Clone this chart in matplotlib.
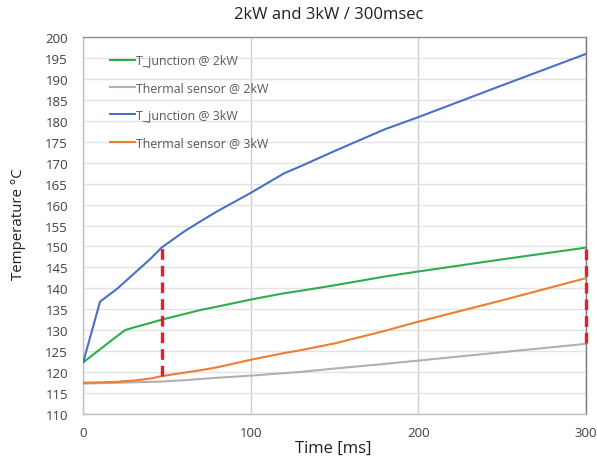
import matplotlib
matplotlib.use("Agg")
import matplotlib.pyplot as plt

plt.rcParams['font.family'] = ['Open Sans', 'DejaVu Sans']

time_ms = [0, 10, 20, 25, 30, 40, 47, 60, 70, 80, 100, 120, 130, 150, 180, 200, 250, 300]
tj_2kw = [122.3, 125.4, 128.5, 130.0, 130.6, 131.7, 132.5, 133.8, 134.8, 135.6, 137.3, 138.8, 139.4, 140.7, 142.8, 144.0, 146.9, 149.7]
ts_2kw = [117.2, 117.3, 117.4, 117.45, 117.5, 117.6, 117.7, 118.0, 118.3, 118.6, 119.1, 119.7, 120.0, 120.8, 121.9, 122.7, 124.7, 126.7]
tj_3kw = [122.4, 136.8, 139.8, 141.6, 143.4, 147.0, 149.8, 153.5, 156.0, 158.4, 162.8, 167.5, 169.2, 172.8, 178.0, 180.9, 188.5, 196.0]
ts_3kw = [117.4, 117.5, 117.6, 117.8, 117.9, 118.4, 119.0, 119.8, 120.4, 121.1, 122.9, 124.5, 125.2, 126.8, 129.8, 132.0, 137.1, 142.4]

marker_a = [47, 119.0, 150.0]
marker_b = [300, 126.9, 149.8]

x_ticks = [0, 100, 200, 300]
y_ticks = list(range(110, 201, 5))

fig = plt.figure(figsize=(5.97, 4.60), dpi=100)
ax = fig.add_axes([83.3 / 597, 1 - 414.7 / 460, (585.7 - 83.3) / 597, (414.7 - 38.3) / 460])

ax.plot(time_ms, tj_2kw, color='#2EAD4F', lw=1.5, label='T_junction @ 2kW', zorder=3)
ax.plot(time_ms, ts_2kw, color='#B0B0B0', lw=1.5, label='Thermal sensor @ 2kW', zorder=3)
ax.plot(time_ms, tj_3kw, color='#4A6FC4', lw=1.5, label='T_junction @ 3kW', zorder=3)
ax.plot(time_ms, ts_3kw, color='#EE7D31', lw=1.5, label='Thermal sensor @ 3kW', zorder=3)

ax.plot([marker_a[0], marker_a[0]], [marker_a[1], marker_a[2]], color='#EE1C25', lw=2.4,
        dashes=(3.2, 1.8), zorder=4)
ax.plot([marker_b[0] + 0.4, marker_b[0] + 0.4], [marker_b[1], marker_b[2]], color='#EE1C25', lw=2.4,
        dashes=(3.2, 1.8), zorder=4, clip_on=False)

ax.set_xlim(0, 300)
ax.set_ylim(110, 200)
ax.set_xticks(x_ticks)
ax.set_yticks(y_ticks)
ax.tick_params(length=0, labelsize=9.5, colors='#404040', pad=11)
ax.tick_params(axis='x', pad=9)

ax.yaxis.grid(True, color='#E3E3E3', lw=1.0)
ax.xaxis.grid(True, color='#CFCFCF', lw=1.0)
ax.set_axisbelow(True)

ax.spines['left'].set_color('#C0C0C0')
ax.spines['bottom'].set_color('#C0C0C0')
ax.spines['top'].set_color('#8E8E8E')
ax.spines['right'].set_color('#7A7A7A')
for s in ax.spines.values():
    s.set_linewidth(1.0)

leg = ax.legend(loc='upper left', bbox_to_anchor=(0.043, 0.968), frameon=False,
                fontsize=8.9, labelspacing=1.15, handlelength=2.0, handletextpad=0.15,
                borderaxespad=0)
for t in leg.get_texts():
    t.set_color('#595959')

fig.text(329 / 597, 1 - 15 / 460, '2kW and 3kW / 300msec', ha='center', va='center',
         fontsize=12, color='#202020')
fig.text(19 / 597, 1 - 224 / 460, 'Temperature °C', ha='center', va='center',
         rotation=90, fontsize=10.8, color='#202020')
fig.text(333 / 597, 1 - 449 / 460, 'Time [ms]', ha='center', va='center',
         fontsize=12, color='#202020')

fig.savefig('out.png', dpi=100)
